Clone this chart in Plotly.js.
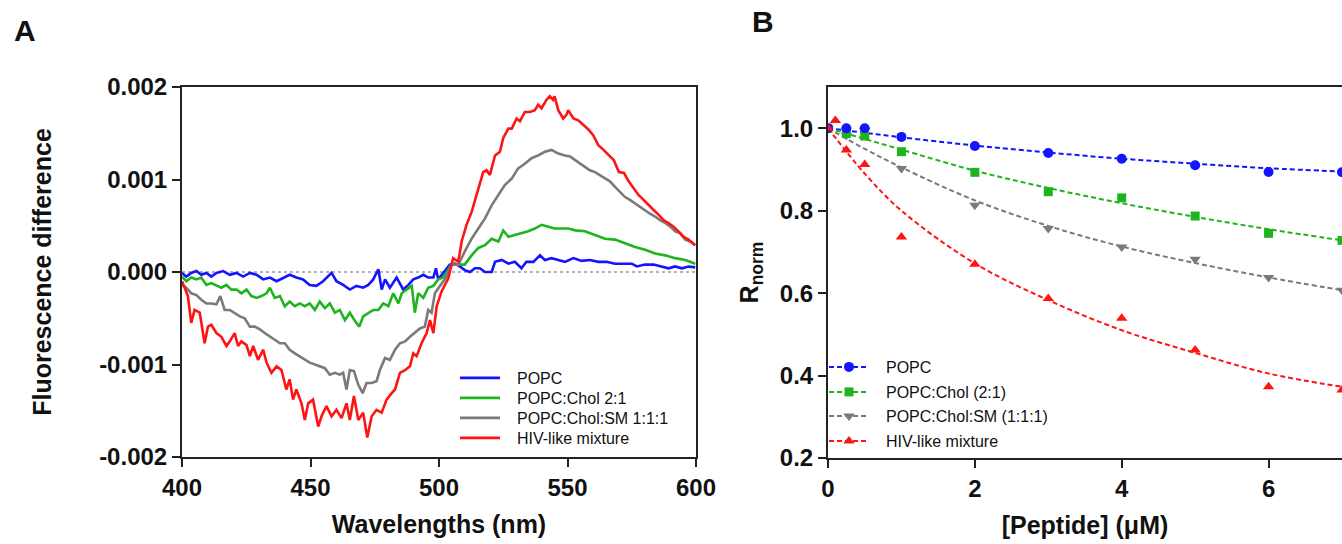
<!DOCTYPE html>
<html>
<head>
<meta charset="utf-8">
<script src="https://cdn.plot.ly/plotly-3.0.1.min.js"></script>
<style>html,body{margin:0;padding:0;background:#fff;}#chart{width:1342px;height:544px;}</style>
</head>
<body>
<div id="chart"></div>
<script>
// ---------------- Panel A data (wavelength nm, fluorescence difference) ----------------
const popcWl = [400.0,401.7,403.6,405.6,407.5,409.5,411.4,413.4,416.0,418.6,421.2,423.8,426.4,429.0,431.6,434.2,436.8,439.4,441.9,444.5,447.1,449.7,452.3,454.9,458.2,460.1,462.7,465.3,467.9,470.5,472.5,474.4,476.4,477.7,479.0,480.9,483.5,486.1,488.1,490.0,491.9,493.9,495.8,497.8,498.8,499.7,501.7,504.2,506.2,508.1,510.0,512.0,514.0,515.9,517.9,520.5,521.8,524.4,527.0,529.5,532.1,534.0,536.7,539.3,541.2,543.8,546.4,549.0,552.3,555.5,558.7,562.0,565.2,568.5,571.7,575.0,577.0,580.2,583.5,586.7,589.3,591.9,594.5,597.1,599.7];
const popcDiff = [-0.00001,-0.00005,-0.00001,0.00001,-0.00003,-0.00001,-0.00005,-0.00001,0.00001,-0.00003,-0.00001,-0.00005,-0.00001,-0.00003,-0.00008,-0.00006,-0.00010,-0.00006,-0.00003,-0.00006,-0.00008,-0.00014,-0.00015,-0.00010,-0.00001,-0.00010,-0.00014,-0.00019,-0.00015,-0.00017,-0.00014,-0.00008,0.00003,-0.00019,-0.00008,-0.00017,-0.00006,-0.00019,-0.00014,-0.00008,-0.00006,-0.00003,-0.00006,-0.00006,0.00004,-0.00008,-0.00001,0.00008,0.00009,0.00006,0.00002,0.00000,0.00004,0.00004,0.00000,0.00000,0.00011,0.00013,0.00009,0.00011,0.00004,0.00011,0.00011,0.00018,0.00013,0.00015,0.00013,0.00011,0.00015,0.00012,0.00013,0.00011,0.00011,0.00009,0.00009,0.00009,0.00006,0.00008,0.00008,0.00006,0.00004,0.00006,0.00004,0.00006,0.00005];

const cholWl = [400.0,401.7,403.6,405.6,407.5,409.5,411.4,413.4,415.3,417.3,419.2,421.2,423.1,425.1,427.0,429.0,430.9,432.9,434.2,436.1,438.1,440.0,441.9,443.9,445.8,447.8,449.7,451.7,453.6,455.6,457.5,459.5,461.4,463.4,465.3,467.3,469.0,470.5,472.5,474.4,476.4,478.3,480.3,482.2,484.2,485.5,487.4,489.4,490.6,491.9,493.9,495.8,497.8,499.7,501.7,504.9,507.5,510.0,512.7,515.3,517.9,520.5,523.1,525.0,527.0,529.5,532.1,534.7,537.3,539.9,542.5,545.0,547.6,550.3,553.0,556.8,560.7,564.6,568.5,572.4,576.3,580.2,584.1,588.0,591.9,595.8,599.7];
const cholDiff = [-0.00005,-0.00010,-0.00006,-0.00008,-0.00006,-0.00014,-0.00012,-0.00015,-0.00017,-0.00014,-0.00019,-0.00019,-0.00023,-0.00019,-0.00026,-0.00028,-0.00026,-0.00023,-0.00017,-0.00028,-0.00026,-0.00037,-0.00032,-0.00037,-0.00034,-0.00037,-0.00034,-0.00041,-0.00032,-0.00039,-0.00034,-0.00044,-0.00041,-0.00052,-0.00044,-0.00053,-0.00059,-0.00048,-0.00044,-0.00041,-0.00041,-0.00034,-0.00037,-0.00023,-0.00034,-0.00023,-0.00019,-0.00015,-0.00044,-0.00023,-0.00028,-0.00017,-0.00015,-0.00008,-0.00006,0.00008,0.00008,0.00008,0.00018,0.00026,0.00029,0.00036,0.00033,0.00045,0.00038,0.00040,0.00042,0.00044,0.00047,0.00051,0.00049,0.00047,0.00047,0.00047,0.00045,0.00044,0.00040,0.00036,0.00035,0.00031,0.00027,0.00024,0.00020,0.00018,0.00015,0.00013,0.00009];

const smWl = [400.0,401.7,403.6,405.6,407.5,409.5,411.4,413.4,414.9,416.6,418.6,420.5,422.5,424.4,426.4,428.3,430.3,432.2,434.2,436.1,438.1,440.0,441.9,443.9,445.8,447.8,449.7,451.7,453.6,455.6,457.5,459.5,461.4,462.7,464.0,465.3,466.9,468.6,470.3,471.8,473.8,475.7,477.0,479.0,480.9,482.9,484.8,486.8,488.7,490.6,492.6,494.5,495.8,497.1,498.4,500.4,502.3,504.9,507.5,510.0,512.7,515.3,517.9,520.5,523.1,525.6,528.3,530.8,533.4,536.0,538.6,541.2,543.8,546.4,549.0,551.0,553.0,555.0,556.8,558.7,560.7,562.6,564.6,566.5,568.5,570.4,572.4,574.3,576.3,578.2,580.2,582.1,584.1,586.0,588.0,590.0,591.9,593.8,595.8,597.8,599.7];
const smDiff = [-0.00014,-0.00017,-0.00023,-0.00025,-0.00030,-0.00034,-0.00034,-0.00035,-0.00026,-0.00041,-0.00041,-0.00044,-0.00048,-0.00050,-0.00059,-0.00059,-0.00062,-0.00066,-0.00070,-0.00073,-0.00077,-0.00077,-0.00084,-0.00088,-0.00091,-0.00095,-0.00098,-0.00100,-0.00102,-0.00104,-0.00111,-0.00109,-0.00111,-0.00109,-0.00127,-0.00106,-0.00107,-0.00122,-0.00131,-0.00120,-0.00120,-0.00118,-0.00106,-0.00093,-0.00095,-0.00084,-0.00077,-0.00075,-0.00070,-0.00066,-0.00061,-0.00059,-0.00041,-0.00044,-0.00023,-0.00015,-0.00008,0.00008,0.00008,0.00022,0.00036,0.00047,0.00058,0.00072,0.00083,0.00094,0.00101,0.00112,0.00117,0.00123,0.00126,0.00130,0.00132,0.00128,0.00126,0.00125,0.00121,0.00117,0.00114,0.00110,0.00108,0.00105,0.00101,0.00098,0.00092,0.00087,0.00081,0.00078,0.00074,0.00071,0.00067,0.00063,0.00060,0.00056,0.00053,0.00049,0.00044,0.00042,0.00035,0.00033,0.00029];

const hivWl = [400.0,402.3,403.6,404.9,406.9,408.8,410.1,411.4,413.4,415.3,417.3,418.6,420.5,421.8,423.1,425.1,426.4,427.7,429.6,431.6,432.9,434.8,436.8,438.7,440.6,441.9,443.2,444.5,446.5,447.8,449.1,451.0,453.0,454.3,456.2,458.2,460.1,462.1,464.0,465.3,466.9,468.6,470.5,472.1,473.8,475.7,477.7,479.6,481.6,482.9,484.8,486.8,488.7,490.0,491.3,493.2,495.2,496.5,497.8,499.1,501.0,503.6,505.5,507.5,508.8,510.7,512.7,514.6,515.9,517.2,518.5,519.8,521.8,523.7,525.0,527.0,528.3,530.2,531.5,533.4,535.4,537.3,538.6,539.9,541.8,543.1,544.4,545.0,546.4,548.3,549.6,550.3,552.3,554.2,556.2,558.2,560.0,562.0,564.0,566.0,568.0,570.0,572.0,573.8,575.7,577.7,579.6,581.6,583.5,585.4,587.4,589.3,591.3,593.2,595.2,597.1,599.7];
const hivDiff = [-0.00010,-0.00026,-0.00055,-0.00041,-0.00044,-0.00077,-0.00059,-0.00057,-0.00066,-0.00070,-0.00080,-0.00075,-0.00066,-0.00080,-0.00075,-0.00079,-0.00091,-0.00080,-0.00095,-0.00084,-0.00098,-0.00109,-0.00102,-0.00106,-0.00127,-0.00116,-0.00138,-0.00127,-0.00142,-0.00160,-0.00142,-0.00138,-0.00167,-0.00156,-0.00145,-0.00156,-0.00149,-0.00158,-0.00142,-0.00160,-0.00134,-0.00160,-0.00152,-0.00179,-0.00156,-0.00149,-0.00152,-0.00138,-0.00131,-0.00127,-0.00109,-0.00106,-0.00102,-0.00088,-0.00091,-0.00077,-0.00066,-0.00052,-0.00066,-0.00037,-0.00021,-0.00007,0.00015,0.00011,0.00033,0.00051,0.00065,0.00083,0.00098,0.00108,0.00110,0.00105,0.00126,0.00130,0.00145,0.00155,0.00155,0.00166,0.00163,0.00173,0.00173,0.00175,0.00181,0.00177,0.00186,0.00190,0.00186,0.00190,0.00175,0.00166,0.00170,0.00175,0.00166,0.00164,0.00159,0.00154,0.00148,0.00137,0.00132,0.00126,0.00121,0.00108,0.00107,0.00098,0.00090,0.00083,0.00078,0.00072,0.00067,0.00062,0.00056,0.00053,0.00049,0.00044,0.00038,0.00035,0.00029];

const aTickVals = [-0.002,-0.001,0,0.001,0.002];
const aTickText = ['-0.002','-0.001','0.000','0.001','0.002'];
const aXTicks = [400,450,500,550,600];

// ---------------- Panel B data ([Peptide] uM, R_norm) ----------------
const popcConc = [0,0.25,0.5,1,2,3,4,5,6,7];
const popcR    = [1.0,1.0,1.0,0.979,0.957,0.940,0.926,0.910,0.894,0.893];
const cholConc = [0,0.25,0.5,1,2,3,4,5,6,7];
const cholR    = [1.0,0.987,0.981,0.943,0.893,0.846,0.831,0.787,0.745,0.728];
const smConc   = [0,0.25,0.5,1,2,3,4,5,6,7];
const smR      = [1.0,0.983,0.995,0.902,0.813,0.757,0.712,0.682,0.638,0.607];
const hivConc  = [0,0.1,0.25,0.5,1,2,3,4,5,6,7];
const hivR     = [1.0,1.019,0.947,0.912,0.736,0.670,0.587,0.539,0.462,0.373,0.365];

// fitted curves
const fitConc = [0,0.5,1,2,3,4,5,6,7];
const popcFit = [1.0,0.989,0.978,0.958,0.941,0.926,0.914,0.903,0.895];
const cholFit = [1.0,0.974,0.948,0.897,0.855,0.818,0.785,0.755,0.728];
const smFit   = [1.0,0.950,0.905,0.825,0.763,0.713,0.673,0.638,0.607];
const hivFit  = [1.0,0.890,0.800,0.672,0.583,0.510,0.455,0.405,0.373];

const bYTicks = [0.2,0.4,0.6,0.8,1.0];
const bXTicks = [0,2,4,6];

const seriesNames = ['POPC','POPC:Chol 2:1','POPC:Chol:SM 1:1:1','HIV-like mixture'];
const seriesNamesB = ['POPC','POPC:Chol (2:1)','POPC:Chol:SM (1:1:1)','HIV-like mixture'];

// ---------------- styling ----------------
const W = 1342, H = 544;
const px = p => p / W;
const py = p => 1 - p / H;
const cBlue = '#1414ff', cGreen = '#1fb41f', cGray = '#7a7a7a', cRed = '#ff1414';
const FONT = 'Liberation Sans, Arial, Helvetica, sans-serif';
const GAP = '\u2002\u2005'; // visual gap between legend symbol and label

function lineTrace(x, y, name, color, legend) {
  return {x: x, y: y, name: GAP + name, type: 'scatter', mode: 'lines', xaxis: 'x', yaxis: 'y',
          line: {color: color, width: 2.6}, legend: legend, hoverinfo: 'skip'};
}
// isolated points (no connecting segment) so the legend shows line + marker
function gapped(arr) { const out = []; arr.forEach((v, i) => { if (i) out.push(null); out.push(v); }); return out; }
function pointTrace(x, y, name, color, symbol, size, legend) {
  return {x: gapped(x), y: gapped(y), name: GAP + name, type: 'scatter', mode: 'lines+markers',
          xaxis: 'x2', yaxis: 'y2', connectgaps: false,
          line: {color: color, width: 2, dash: '5px,3px'},
          marker: {color: color, symbol: symbol, size: size}, legend: legend, hoverinfo: 'skip'};
}
function fitTrace(y, color) {
  return {x: fitConc, y: y, type: 'scatter', mode: 'lines', xaxis: 'x2', yaxis: 'y2',
          line: {color: color, width: 2, dash: '5px,3px', shape: 'spline'}, showlegend: false, hoverinfo: 'skip'};
}

const data = [
  lineTrace(popcWl, popcDiff, seriesNames[0], cBlue, 'legend'),
  lineTrace(cholWl, cholDiff, seriesNames[1], cGreen, 'legend2'),
  lineTrace(smWl, smDiff, seriesNames[2], cGray, 'legend3'),
  lineTrace(hivWl, hivDiff, seriesNames[3], cRed, 'legend4'),
  fitTrace(popcFit, cBlue), fitTrace(cholFit, cGreen), fitTrace(smFit, cGray), fitTrace(hivFit, cRed),
  pointTrace(smConc, smR, seriesNamesB[2], cGray, 'triangle-down', 10, 'legend7'),
  pointTrace(cholConc, cholR, seriesNamesB[1], cGreen, 'square', 9, 'legend6'),
  pointTrace(popcConc, popcR, seriesNamesB[0], cBlue, 'circle', 10, 'legend5'),
  pointTrace(hivConc, hivR, seriesNamesB[3], cRed, 'triangle-up', 10, 'legend8')
];

const tickFont = {family: FONT, size: 24, color: '#111', weight: 'bold'};
const titleFont = {family: FONT, size: 25, color: '#111', weight: 'bold'};
const axBase = {showgrid: false, zeroline: false, showline: true, linecolor: '#222', linewidth: 2,
                ticks: 'outside', ticklen: 8, tickwidth: 2, tickcolor: '#222', tickfont: tickFont, fixedrange: true};

function leg(xp, yp, size) {
  return {x: px(xp), y: py(yp), xanchor: 'left', yanchor: 'middle', bgcolor: 'rgba(0,0,0,0)',
          borderwidth: 0, itemwidth: 40, font: {family: FONT, size: size, color: '#111'}, itemclick: false, itemdoubleclick: false};
}

const layout = {
  width: W, height: H,
  margin: {l: 0, r: 0, t: 0, b: 0},
  paper_bgcolor: '#fff', plot_bgcolor: '#fff',
  showlegend: true,
  xaxis: Object.assign({}, axBase, {domain: [px(182), px(696)], range: [400, 600], tickvals: aXTicks,
          mirror: true, anchor: 'y',
          title: {text: 'Wavelengths (nm)', font: titleFont, standoff: 16}}),
  yaxis: Object.assign({}, axBase, {domain: [py(457), py(87)], range: [-0.002, 0.002], tickvals: aTickVals, ticktext: aTickText,
          mirror: true, anchor: 'x',
          title: {text: 'Fluorescence difference', font: titleFont, standoff: 40}}),
  xaxis2: Object.assign({}, axBase, {domain: [px(828), 1], range: [0, 7.0], tickvals: bXTicks,
          mirror: true, anchor: 'y2',
          title: {text: '[Peptide] (μM)', font: titleFont, standoff: 16}}),
  yaxis2: Object.assign({}, axBase, {domain: [py(458), py(87)], range: [0.2, 1.1], tickvals: bYTicks, tickformat: '.1f',
          mirror: false, anchor: 'x2',
          title: {text: 'R<sub>norm</sub>', font: titleFont, standoff: 14}}),
  legend:  leg(455, 378, 16),
  legend2: leg(455, 398, 16),
  legend3: leg(455, 418, 16),
  legend4: leg(455, 438, 16),
  legend5: leg(824, 367, 16),
  legend6: leg(824, 392, 16),
  legend7: leg(824, 416, 16),
  legend8: leg(824, 441, 16),
  shapes: [{type: 'line', xref: 'x domain', yref: 'y', x0: 0, x1: 1, y0: 0, y1: 0, layer: 'below',
            line: {color: '#9a9a9a', width: 1.5, dash: 'dot'}}],
  annotations: [
    {text: 'A', xref: 'paper', yref: 'paper', x: px(12), y: py(30), xanchor: 'left', yanchor: 'middle', showarrow: false,
     font: {family: FONT, size: 30, color: '#111', weight: 'bold'}},
    {text: 'B', xref: 'paper', yref: 'paper', x: px(750), y: py(22), xanchor: 'left', yanchor: 'middle', showarrow: false,
     font: {family: FONT, size: 30, color: '#111', weight: 'bold'}}
  ]
};

Plotly.newPlot('chart', data, layout, {staticPlot: true, displayModeBar: false});
</script>
</body>
</html>
